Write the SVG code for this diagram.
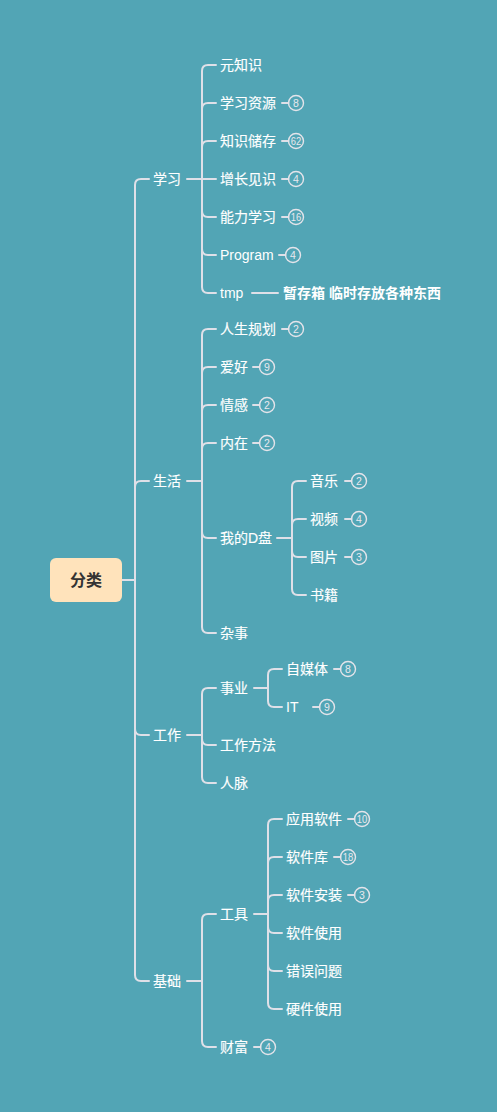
<svg xmlns="http://www.w3.org/2000/svg" width="497" height="1112" viewBox="0 0 497 1112">
<style>
.bg{fill:#52a5b5}
.ln{fill:none;stroke:#dfe0e8;stroke-width:2;stroke-linecap:round}
.lb{fill:#ffffff;stroke:#ffffff;stroke-width:0.15;font-family:"Liberation Sans","Noto Sans CJK SC",sans-serif;font-size:14px}
.lt{stroke-width:0}
.note{fill:#ffffff;font-family:"Liberation Sans","Noto Sans CJK SC",sans-serif;font-size:14px;font-weight:bold}
.bc{fill:none;stroke:#e4e4ea;stroke-width:1.4}
.bt{fill:#e8e8ee;font-family:"Liberation Sans",sans-serif;font-size:10.5px;text-anchor:middle}
.b2{font-size:10px}
.root{fill:#ffe3bb}
.rt{fill:#333333;font-family:"Liberation Sans","Noto Sans CJK SC",sans-serif;font-size:16px;font-weight:bold;text-anchor:middle}
</style>
<rect class="bg" x="0" y="0" width="497" height="1112"/>
<g id="connectors">
<path class="ln" d="M122,580 H135"/>
<path class="ln" d="M135,580 V185 Q135,179 141,179 H149"/>
<path class="ln" d="M135,580 V487 Q135,481 141,481 H149"/>
<path class="ln" d="M135,580 V729 Q135,735 141,735 H149"/>
<path class="ln" d="M135,580 V975 Q135,981 141,981 H149"/>
<path class="ln" d="M187,179 H216"/>
<path class="ln" d="M202,179 V71 Q202,65 208,65 H216"/>
<path class="ln" d="M202,179 V109 Q202,103 208,103 H216"/>
<path class="ln" d="M202,179 V147 Q202,141 208,141 H216"/>
<path class="ln" d="M202,179 V211 Q202,217 208,217 H216"/>
<path class="ln" d="M202,179 V249 Q202,255 208,255 H216"/>
<path class="ln" d="M202,179 V287 Q202,293 208,293 H216"/>
<path class="ln" d="M252,293 H278"/>
<path class="ln" d="M187,481 H202"/>
<path class="ln" d="M202,481 V335 Q202,329 208,329 H216"/>
<path class="ln" d="M202,481 V373 Q202,367 208,367 H216"/>
<path class="ln" d="M202,481 V411 Q202,405 208,405 H216"/>
<path class="ln" d="M202,481 V449 Q202,443 208,443 H216"/>
<path class="ln" d="M202,481 V532 Q202,538 208,538 H216"/>
<path class="ln" d="M202,481 V627 Q202,633 208,633 H216"/>
<path class="ln" d="M277,538 H292"/>
<path class="ln" d="M292,538 V487 Q292,481 298,481 H306"/>
<path class="ln" d="M292,538 V525 Q292,519 298,519 H306"/>
<path class="ln" d="M292,538 V551 Q292,557 298,557 H306"/>
<path class="ln" d="M292,538 V589 Q292,595 298,595 H306"/>
<path class="ln" d="M187,735 H202"/>
<path class="ln" d="M202,735 V694 Q202,688 208,688 H216"/>
<path class="ln" d="M202,735 V739 Q202,745 208,745 H216"/>
<path class="ln" d="M202,735 V777 Q202,783 208,783 H216"/>
<path class="ln" d="M254,688 H268"/>
<path class="ln" d="M268,688 V675 Q268,669 274,669 H282"/>
<path class="ln" d="M268,688 V701 Q268,707 274,707 H282"/>
<path class="ln" d="M187,981 H202"/>
<path class="ln" d="M202,981 V920 Q202,914 208,914 H216"/>
<path class="ln" d="M202,981 V1041 Q202,1047 208,1047 H216"/>
<path class="ln" d="M254,914 H268"/>
<path class="ln" d="M268,914 V825 Q268,819 274,819 H282"/>
<path class="ln" d="M268,914 V863 Q268,857 274,857 H282"/>
<path class="ln" d="M268,914 V901 Q268,895 274,895 H282"/>
<path class="ln" d="M268,914 V927 Q268,933 274,933 H282"/>
<path class="ln" d="M268,914 V965 Q268,971 274,971 H282"/>
<path class="ln" d="M268,914 V1003 Q268,1009 274,1009 H282"/>
</g>
<g id="root"><rect class="root" x="50" y="558" width="72" height="44" rx="6"/><text class="rt" x="86" y="586">分类</text></g>
<g id="n-xuexi"><text class="lb" x="153" y="184">学习</text></g>
<g id="n-shenghuo"><text class="lb" x="153" y="486">生活</text></g>
<g id="n-gongzuo"><text class="lb" x="153" y="740">工作</text></g>
<g id="n-jichu"><text class="lb" x="153" y="986">基础</text></g>
<g id="n-yuanzhishi"><text class="lb" x="220" y="70">元知识</text></g>
<g id="n-xuexiziyuan"><text class="lb" x="220" y="108">学习资源</text><path class="ln" d="M282,103 H288.5"/><circle class="bc" cx="296" cy="103" r="7.5"/><text class="bt" x="296" y="106.8">8</text></g>
<g id="n-zhishichucun"><text class="lb" x="220" y="146">知识储存</text><path class="ln" d="M282,141 H288.5"/><circle class="bc" cx="296" cy="141" r="7.5"/><text class="bt b2" x="296" y="144.6" textLength="10.5" lengthAdjust="spacingAndGlyphs">62</text></g>
<g id="n-zengzhang"><text class="lb" x="220" y="184">增长见识</text><path class="ln" d="M282,179 H288.5"/><circle class="bc" cx="296" cy="179" r="7.5"/><text class="bt" x="296" y="182.8">4</text></g>
<g id="n-nengli"><text class="lb" x="220" y="222">能力学习</text><path class="ln" d="M282,217 H288.5"/><circle class="bc" cx="296" cy="217" r="7.5"/><text class="bt b2" x="296" y="220.6" textLength="10.5" lengthAdjust="spacingAndGlyphs">16</text></g>
<g id="n-program"><text class="lb lt" x="220" y="260">Program</text><path class="ln" d="M279,255 H285.5"/><circle class="bc" cx="293" cy="255" r="7.5"/><text class="bt" x="293" y="258.8">4</text></g>
<g id="n-tmp"><text class="lb lt" x="220" y="298">tmp</text><text class="note" x="283" y="298">暂存箱 临时存放各种东西</text></g>
<g id="n-rensheng"><text class="lb" x="220" y="334">人生规划</text><path class="ln" d="M282,329 H288.5"/><circle class="bc" cx="296" cy="329" r="7.5"/><text class="bt" x="296" y="332.8">2</text></g>
<g id="n-aihao"><text class="lb" x="220" y="372">爱好</text><path class="ln" d="M253,367 H259.5"/><circle class="bc" cx="267" cy="367" r="7.5"/><text class="bt" x="267" y="370.8">9</text></g>
<g id="n-qinggan"><text class="lb" x="220" y="410">情感</text><path class="ln" d="M253,405 H259.5"/><circle class="bc" cx="267" cy="405" r="7.5"/><text class="bt" x="267" y="408.8">2</text></g>
<g id="n-neizai"><text class="lb" x="220" y="448">内在</text><path class="ln" d="M253,443 H259.5"/><circle class="bc" cx="267" cy="443" r="7.5"/><text class="bt" x="267" y="446.8">2</text></g>
<g id="n-dpan"><text class="lb" x="220" y="543">我的D盘</text></g>
<g id="n-yinyue"><text class="lb" x="310" y="486">音乐</text><path class="ln" d="M345,481 H351.5"/><circle class="bc" cx="359" cy="481" r="7.5"/><text class="bt" x="359" y="484.8">2</text></g>
<g id="n-shipin"><text class="lb" x="310" y="524">视频</text><path class="ln" d="M345,519 H351.5"/><circle class="bc" cx="359" cy="519" r="7.5"/><text class="bt" x="359" y="522.8">4</text></g>
<g id="n-tupian"><text class="lb" x="310" y="562">图片</text><path class="ln" d="M345,557 H351.5"/><circle class="bc" cx="359" cy="557" r="7.5"/><text class="bt" x="359" y="560.8">3</text></g>
<g id="n-shuji"><text class="lb" x="310" y="600">书籍</text></g>
<g id="n-zashi"><text class="lb" x="220" y="638">杂事</text></g>
<g id="n-shiye"><text class="lb" x="220" y="693">事业</text></g>
<g id="n-zimeiti"><text class="lb" x="286" y="674">自媒体</text><path class="ln" d="M334,669 H340.5"/><circle class="bc" cx="348" cy="669" r="7.5"/><text class="bt" x="348" y="672.8">8</text></g>
<g id="n-it"><text class="lb lt" x="286" y="712">IT</text><path class="ln" d="M313,707 H319.5"/><circle class="bc" cx="327" cy="707" r="7.5"/><text class="bt" x="327" y="710.8">9</text></g>
<g id="n-gongzuofangfa"><text class="lb" x="220" y="750">工作方法</text></g>
<g id="n-renmai"><text class="lb" x="220" y="788">人脉</text></g>
<g id="n-gongju"><text class="lb" x="220" y="919">工具</text></g>
<g id="n-yingyong"><text class="lb" x="286" y="824">应用软件</text><path class="ln" d="M348,819 H354.5"/><circle class="bc" cx="362" cy="819" r="7.5"/><text class="bt b2" x="362" y="822.6" textLength="10.5" lengthAdjust="spacingAndGlyphs">10</text></g>
<g id="n-ruanjianku"><text class="lb" x="286" y="862">软件库</text><path class="ln" d="M334,857 H340.5"/><circle class="bc" cx="348" cy="857" r="7.5"/><text class="bt b2" x="348" y="860.6" textLength="10.5" lengthAdjust="spacingAndGlyphs">18</text></g>
<g id="n-anzhuang"><text class="lb" x="286" y="900">软件安装</text><path class="ln" d="M348,895 H354.5"/><circle class="bc" cx="362" cy="895" r="7.5"/><text class="bt" x="362" y="898.8">3</text></g>
<g id="n-shiyong"><text class="lb" x="286" y="938">软件使用</text></g>
<g id="n-cuowu"><text class="lb" x="286" y="976">错误问题</text></g>
<g id="n-yingjian"><text class="lb" x="286" y="1014">硬件使用</text></g>
<g id="n-caifu"><text class="lb" x="220" y="1052">财富</text><path class="ln" d="M254,1047 H260.5"/><circle class="bc" cx="268" cy="1047" r="7.5"/><text class="bt" x="268" y="1050.8">4</text></g>
</svg>
